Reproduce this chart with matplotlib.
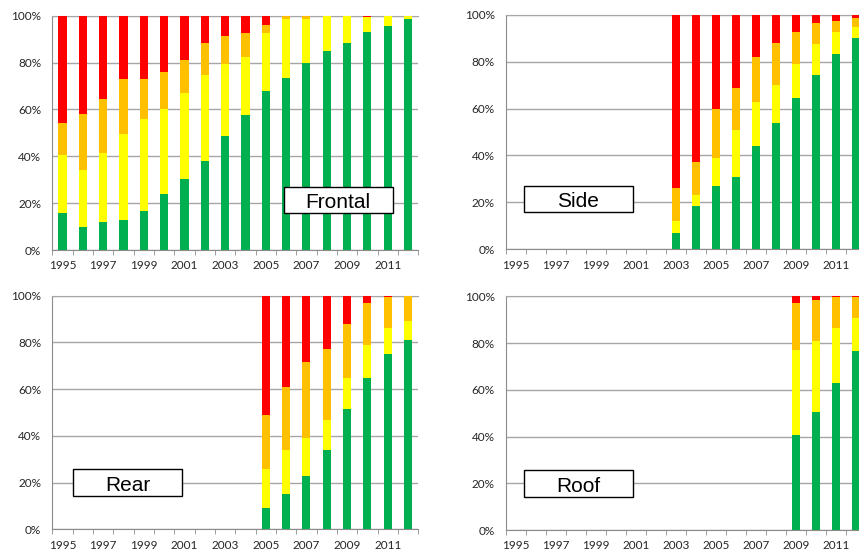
import numpy as np
import matplotlib.pyplot as plt
from matplotlib.patches import Rectangle
from matplotlib.ticker import FixedLocator, PercentFormatter

years = list(range(1995, 2013))

# share of cars per rating (%), one entry per year starting at first_year
frontal_first_year = 1995
frontal_good = [16, 10, 12, 13, 16.5, 24, 30.5, 38, 48.5, 57.5, 68, 73.5, 80, 85, 88.5, 93, 95.5, 98.5]
frontal_acceptable = [24.5, 24, 29.5, 36.5, 39.5, 36, 36.5, 36.5, 31, 25, 24.5, 25, 18.5, 15, 11.5, 6.3, 4.5, 1.5]
frontal_marginal = [13.5, 24, 23, 23.5, 17, 16, 14, 14, 12, 10, 3.5, 1.5, 1.5, 0, 0, 0.3, 0, 0]
frontal_poor = [46, 42, 35.5, 27, 27, 24, 19, 11.5, 8.5, 7.5, 4, 0, 0, 0, 0, 0.4, 0, 0]

side_first_year = 2003
side_good = [7, 18.5, 27, 31, 44, 54, 64.5, 74.5, 83.5, 90]
side_acceptable = [5, 4.5, 12, 20, 19, 16, 14.5, 13, 9, 5]
side_marginal = [14, 14, 21, 18, 19, 18, 13.5, 9, 5, 3.5]
side_poor = [74, 63, 40, 31, 18, 12, 7.5, 3.5, 2.5, 1.5]

rear_first_year = 2005
rear_good = [9, 15, 23, 34, 51.5, 65, 75, 81]
rear_acceptable = [17, 19, 16, 13, 13.5, 14, 11, 8]
rear_marginal = [23, 27, 32.5, 30, 23, 18, 13.5, 11]
rear_poor = [51, 39, 28.5, 23, 12, 3, 0.5, 0]

roof_first_year = 2009
roof_good = [40.5, 50.5, 63, 76.5]
roof_acceptable = [36.5, 30.5, 23.5, 14]
roof_marginal = [20, 17.5, 13, 9]
roof_poor = [3, 1.5, 0.5, 0.5]

colors = ["#00B050", "#FFFF00", "#FFC000", "#FF0000"]

panels = [
    ("Frontal", frontal_first_year, [frontal_good, frontal_acceptable, frontal_marginal, frontal_poor]),
    ("Side", side_first_year, [side_good, side_acceptable, side_marginal, side_poor]),
    ("Rear", rear_first_year, [rear_good, rear_acceptable, rear_marginal, rear_poor]),
    ("Roof", roof_first_year, [roof_good, roof_acceptable, roof_marginal, roof_poor]),
]

# axes rectangles in figure fractions (right column runs past the edge)
positions = [
    [0.0609, 0.5495, 0.4260, 0.4222],
    [0.5887, 0.5510, 0.4191, 0.4222],
    [0.0609, 0.0460, 0.4260, 0.4212],
    [0.5887, 0.0450, 0.4191, 0.4212],
]
# label box: x, y, w, h in axes fractions
boxes = [
    [0.632, 0.158, 0.298, 0.111],
    [0.050, 0.158, 0.303, 0.111],
    [0.057, 0.143, 0.298, 0.114],
    [0.050, 0.143, 0.303, 0.114],
]

fig = plt.figure(figsize=(8.59, 5.55), dpi=100)

for (name, first, series), pos, box in zip(panels, positions, boxes):
    ax = fig.add_axes(pos)
    x = np.arange(years.index(first), len(years))
    bottom = np.zeros(len(x))
    for vals, c in zip(series, colors):
        ax.bar(x, vals, width=0.4, bottom=bottom, color=c, zorder=3)
        bottom += np.array(vals)

    ax.set_xlim(-0.5, len(years) - 0.5)
    ax.set_ylim(0, 100)
    ax.set_yticks(range(0, 101, 20))
    ax.yaxis.set_major_formatter(PercentFormatter(decimals=0))
    ax.yaxis.grid(True, color="#a6a6a6", linewidth=1.0, zorder=0)

    ax.set_xticks(range(0, len(years), 2))
    ax.set_xticklabels([str(y) for y in years[::2]])
    ax.xaxis.set_minor_locator(FixedLocator(np.arange(-0.5, len(years), 1)))
    ax.tick_params(axis="x", which="major", length=0, pad=7.5)
    ax.tick_params(axis="x", which="minor", length=3.5, color="#8c8c8c", direction="out")
    ax.tick_params(axis="y", length=0, pad=8)
    for lab in ax.get_xticklabels() + ax.get_yticklabels():
        lab.set_fontfamily("Lato")
        lab.set_fontsize(8.5)
        lab.set_color("#262626")

    ax.spines["right"].set_visible(False)
    ax.spines["top"].set_color("#a6a6a6")
    ax.spines["left"].set_color("#8c8c8c")
    ax.spines["bottom"].set_color("#8c8c8c")

    ax.add_patch(Rectangle((box[0], box[1]), box[2], box[3], transform=ax.transAxes,
                           facecolor="white", edgecolor="black", linewidth=1.0, zorder=5))
    ax.text(box[0] + box[2] / 2, box[1] + box[3] / 2 - 0.012, name, transform=ax.transAxes,
            ha="center", va="center", fontsize=15, family="Liberation Sans", zorder=6)

fig.savefig("out.png", dpi=100)
